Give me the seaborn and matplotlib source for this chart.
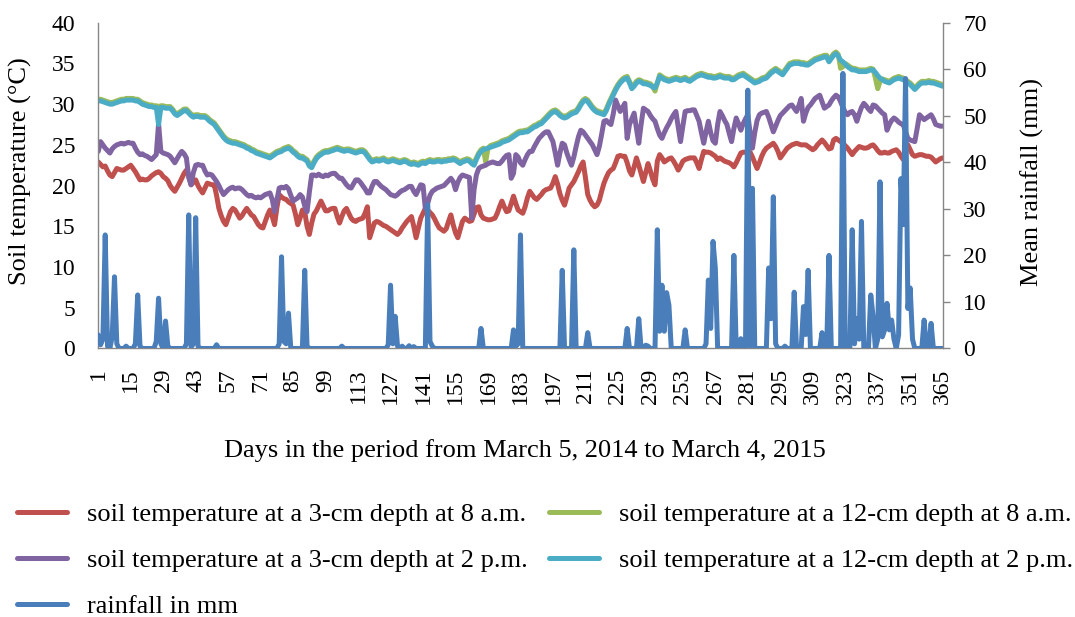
import numpy as np
import pandas as pd
import matplotlib
matplotlib.use("Agg")
import matplotlib.pyplot as plt
import seaborn as sns

# ---------------- data ----------------
days = list(range(1, 366))
x_tick_labels = list(range(1, 366, 14))

soil_3cm_8am = [
    22.9, 22.6, 22.3, 22.4, 21.8, 21.3, 21.1, 21.6, 22.1, 22.0,
    21.9, 21.9, 22.1, 22.3, 22.5, 22.1, 21.7, 21.2, 20.7, 20.8,
    20.7, 20.7, 20.9, 21.2, 21.4, 21.6, 21.7, 21.5, 21.1, 20.9,
    20.6, 20.0, 19.6, 19.3, 19.8, 20.3, 20.9, 21.5, 21.9, 21.2,
    20.1, 20.4, 20.7, 20.0, 19.5, 19.1, 19.7, 20.3, 20.2, 20.1,
    20.1, 18.8, 17.2, 16.3, 15.6, 15.2, 16.0, 16.8, 17.2, 17.0,
    16.5, 16.0, 16.3, 16.8, 17.2, 16.8, 16.4, 16.2, 15.7, 15.2,
    14.9, 14.8, 15.6, 16.4, 17.0, 16.2, 15.2, 17.3, 18.9, 18.6,
    18.4, 18.3, 18.0, 17.8, 17.6, 16.5, 15.2, 16.0, 17.0, 16.8,
    15.0, 14.0, 15.4, 16.5, 16.9, 17.5, 18.1, 17.5, 16.9, 16.9,
    17.1, 17.2, 17.2, 16.2, 15.4, 16.2, 16.9, 17.2, 16.6, 16.0,
    15.7, 15.6, 15.8, 15.9, 16.0, 16.6, 17.4, 13.6, 14.5, 15.4,
    15.6, 15.5, 15.3, 15.1, 15.0, 14.8, 14.6, 14.4, 14.2, 14.0,
    14.3, 14.8, 15.2, 15.6, 15.9, 16.2, 15.0, 13.6, 14.8, 16.0,
    16.6, 17.2, 17.0, 16.7, 16.4, 15.9, 15.3, 14.8, 14.6, 14.4,
    14.7, 15.6, 16.4, 15.2, 14.2, 13.6, 14.6, 15.6, 16.0, 15.8,
    15.6, 15.7, 16.5, 17.3, 17.4, 16.4, 16.0, 15.9, 15.8, 15.8,
    15.9, 16.0, 16.6, 17.4, 18.1, 17.4, 16.8, 16.9, 17.8, 18.7,
    17.8, 17.0, 16.8, 16.6, 17.4, 18.5, 19.3, 18.9, 18.5, 18.3,
    18.6, 18.9, 19.3, 19.5, 19.6, 19.7, 20.3, 21.1, 20.2, 19.0,
    18.2, 17.6, 18.6, 19.7, 20.1, 20.5, 21.1, 21.7, 22.4, 22.9,
    21.0, 18.9, 18.2, 17.7, 17.4, 17.6, 18.2, 19.3, 20.3, 21.0,
    21.6, 21.9, 22.1, 22.8, 23.6, 23.7, 23.6, 23.6, 22.8, 21.8,
    21.3, 22.3, 23.4, 22.5, 21.5, 20.5, 21.6, 22.7, 21.8, 20.8,
    20.1, 23.0, 23.8, 23.4, 22.9, 23.1, 23.3, 23.4, 23.0, 22.5,
    21.9, 22.4, 23.0, 23.2, 23.3, 23.4, 23.4, 23.4, 22.8, 22.1,
    23.2, 24.2, 24.1, 24.1, 24.0, 23.8, 23.6, 23.2, 23.4, 23.2,
    23.0, 22.9, 22.8, 22.6, 22.3, 22.8, 23.4, 24.0, 24.1, 24.1,
    24.2, 24.1, 23.5, 22.8, 22.1, 22.8, 23.6, 24.2, 24.6, 24.8,
    25.0, 25.2, 24.8, 24.2, 23.4, 23.8, 24.2, 24.6, 24.8, 25.0,
    25.1, 25.2, 25.1, 25.0, 25.0, 25.0, 24.8, 24.6, 24.4, 24.6,
    25.0, 25.3, 25.6, 25.3, 24.9, 24.5, 24.6, 25.6, 25.8, 25.6,
    25.4, 25.2, 24.9, 24.6, 24.2, 23.8, 24.2, 24.5, 24.8, 24.7,
    24.6, 24.6, 24.7, 24.9, 25.0, 24.7, 24.3, 24.0, 24.0, 24.1,
    24.0, 24.0, 24.2, 24.3, 24.4, 24.1, 23.6, 23.2, 24.6, 25.0,
    24.4, 23.8, 23.6, 23.7, 23.8, 23.8, 23.7, 23.6, 23.6, 23.5,
    23.2, 22.9, 23.1, 23.3, 23.4,
]

soil_12cm_8am = [
    30.6, 30.6, 30.5, 30.4, 30.3, 30.2, 30.2, 30.3, 30.4, 30.5,
    30.6, 30.6, 30.7, 30.7, 30.7, 30.7, 30.6, 30.6, 30.4, 30.2,
    30.1, 30.0, 29.9, 29.9, 29.8, 29.8, 29.7, 29.8, 29.8, 29.7,
    29.7, 29.7, 29.4, 29.0, 28.8, 29.0, 29.2, 29.4, 29.4, 29.1,
    28.8, 28.6, 28.7, 28.7, 28.6, 28.6, 28.6, 28.4, 28.1, 27.9,
    27.7, 27.3, 26.9, 26.5, 26.1, 25.8, 25.6, 25.5, 25.4, 25.4,
    25.3, 25.2, 25.1, 25.0, 24.8, 24.7, 24.5, 24.4, 24.2, 24.1,
    24.0, 23.9, 23.8, 23.7, 23.6, 23.8, 24.0, 24.2, 24.3, 24.4,
    24.6, 24.7, 24.8, 24.6, 24.3, 24.1, 23.8, 23.6, 23.6, 23.4,
    23.2, 22.7, 22.5, 23.0, 23.5, 23.8, 24.0, 24.2, 24.3, 24.3,
    24.4, 24.5, 24.6, 24.7, 24.6, 24.5, 24.4, 24.5, 24.5, 24.4,
    24.3, 24.2, 24.3, 24.4, 24.4, 24.2, 23.8, 23.4, 23.1, 23.2,
    23.3, 23.2, 23.3, 23.4, 23.2, 23.1, 23.2, 23.3, 23.2, 23.1,
    23.0, 23.1, 23.2, 23.1, 22.9, 22.8, 22.9, 22.8, 22.7, 22.9,
    23.0, 22.9, 23.1, 23.2, 23.1, 23.1, 23.2, 23.2, 23.1, 23.2,
    23.2, 23.3, 23.3, 23.4, 23.3, 23.1, 22.9, 23.1, 23.2, 23.3,
    23.2, 22.9, 22.8, 23.4, 24.0, 24.4, 24.6, 22.9, 24.6, 24.9,
    25.0, 25.1, 25.2, 25.3, 25.5, 25.6, 25.7, 25.8, 26.0, 26.2,
    26.4, 26.6, 26.7, 26.7, 26.8, 26.8, 27.0, 27.2, 27.4, 27.5,
    27.7, 27.8, 28.1, 28.4, 28.7, 29.0, 29.2, 29.3, 29.1, 28.8,
    28.6, 28.5, 28.6, 28.8, 29.0, 29.1, 29.2, 29.6, 30.1, 30.5,
    30.7, 30.5, 30.1, 29.7, 29.4, 29.2, 29.1, 29.0, 28.9, 29.4,
    30.1, 30.7, 31.3, 31.9, 32.4, 32.8, 33.1, 33.3, 33.4, 32.8,
    32.1, 32.4, 32.8, 33.0, 32.9, 32.7, 32.7, 32.6, 32.5, 32.2,
    31.6, 32.6, 33.6, 33.4, 33.2, 33.1, 33.0, 33.1, 33.2, 33.3,
    33.2, 33.1, 33.2, 33.3, 33.1, 33.0, 33.2, 33.4, 33.6, 33.7,
    33.8, 33.7, 33.6, 33.5, 33.5, 33.4, 33.4, 33.5, 33.6, 33.5,
    33.4, 33.4, 33.4, 33.2, 33.2, 33.4, 33.6, 33.7, 33.8, 33.6,
    33.4, 33.2, 33.0, 32.8, 32.9, 33.0, 33.2, 33.3, 33.4, 33.7,
    34.0, 34.2, 34.4, 34.2, 34.0, 33.8, 34.2, 34.6, 35.0, 35.1,
    35.2, 35.2, 35.2, 35.1, 35.1, 35.0, 35.0, 35.2, 35.4, 35.6,
    35.7, 35.8, 35.9, 36.0, 36.0, 35.4, 35.8, 36.2, 36.4, 36.1,
    34.4, 34.6, 35.0, 34.8, 34.6, 34.4, 34.4, 34.3, 34.2, 34.2,
    34.2, 34.2, 34.3, 34.4, 34.3, 33.2, 31.9, 32.8, 33.1, 33.0,
    32.9, 32.8, 33.0, 33.2, 33.3, 33.4, 33.3, 33.2, 33.0, 32.8,
    32.6, 32.3, 32.0, 32.3, 32.6, 32.8, 32.8, 32.8, 32.9, 32.8,
    32.8, 32.7, 32.6, 32.5, 32.4,
]

soil_3cm_2pm = [
    24.2, 25.4, 25.0, 24.6, 24.3, 24.0, 24.5, 24.8, 25.0, 25.1,
    25.2, 25.1, 25.2, 25.3, 25.2, 25.2, 24.6, 24.1, 23.8, 23.9,
    23.7, 23.6, 23.4, 23.2, 23.5, 23.8, 27.6, 24.2, 24.0, 23.9,
    23.8, 23.6, 23.2, 22.8, 23.3, 23.8, 24.2, 23.9, 23.4, 21.0,
    20.1, 21.6, 22.5, 22.6, 22.5, 22.5, 21.8, 21.3, 21.4, 21.3,
    20.9, 20.5, 20.0, 19.4, 18.9, 19.2, 19.5, 19.7, 19.8, 19.6,
    19.7, 19.7, 19.5, 19.2, 18.9, 18.7, 18.8, 18.6, 18.5, 18.6,
    18.5, 18.7, 18.9, 19.0, 19.1, 18.3, 16.8, 18.2, 19.7, 19.8,
    19.7, 19.9, 19.6, 18.8, 18.1, 18.3, 18.5, 18.9, 18.6, 17.5,
    16.8, 19.2, 21.3, 21.3, 21.2, 21.4, 21.2, 21.1, 21.3, 21.2,
    21.4, 21.5, 21.5, 21.2, 20.9, 20.9, 20.5, 20.1, 19.8, 19.7,
    20.2, 20.7, 20.7, 20.4, 20.0, 19.6, 19.1, 19.1, 19.9, 20.5,
    20.5, 20.2, 19.9, 19.7, 19.5, 19.2, 18.9, 18.8, 18.7, 18.9,
    19.2, 19.4, 19.5, 19.7, 19.9, 19.9, 19.3, 18.9, 19.5, 20.1,
    20.0, 17.2, 17.8, 18.8, 19.3, 19.5, 19.7, 19.8, 19.9, 20.0,
    20.3, 20.6, 20.9, 20.5, 19.5, 20.4, 21.0, 21.3, 21.2, 21.1,
    21.0, 16.0, 19.5, 21.3, 22.1, 22.3, 22.4, 22.5, 22.7, 22.8,
    22.9, 22.8, 22.7, 22.7, 23.0, 23.4, 23.7, 23.8, 20.9, 21.5,
    23.8, 23.5, 22.8, 22.5, 23.2, 23.8, 24.2, 24.2, 24.8, 25.3,
    25.8, 26.1, 26.4, 26.6, 26.6, 26.0, 25.4, 24.0, 22.5, 24.0,
    25.2, 25.0, 24.0, 23.2, 22.5, 23.5, 24.8, 26.0, 26.8, 26.6,
    26.2, 25.8, 25.4, 25.0, 24.4, 23.8, 24.8, 26.3, 27.9, 28.0,
    27.7, 27.5, 28.8, 30.5, 29.8, 29.1, 29.6, 30.1, 25.8, 27.5,
    28.2, 28.9, 27.0, 25.2, 27.5, 29.5, 29.3, 29.1, 28.6, 28.2,
    27.9, 27.0, 26.2, 25.8, 26.5, 27.1, 27.6, 28.2, 28.7, 29.1,
    27.2, 25.4, 27.3, 29.1, 29.2, 29.2, 29.3, 29.3, 28.6, 27.9,
    26.5, 25.2, 26.6, 27.9, 26.5, 25.5, 25.2, 27.5, 29.1, 28.6,
    28.0, 27.5, 26.4, 25.4, 27.0, 28.3, 27.6, 26.8, 27.6, 28.2,
    28.7, 26.5, 24.6, 26.5, 28.0, 28.7, 28.9, 29.0, 29.1, 28.4,
    27.5, 26.6, 27.3, 28.0, 28.6, 28.9, 29.2, 29.5, 29.8, 29.9,
    29.5, 29.1, 29.8, 30.7, 27.9, 28.9, 29.6, 29.9, 30.3, 30.7,
    30.9, 31.1, 30.3, 29.5, 29.7, 29.9, 30.4, 30.8, 31.1, 30.9,
    30.3, 29.6, 29.0, 28.7, 29.0, 29.1, 28.7, 27.9, 28.8, 29.6,
    30.1, 29.8, 29.4, 29.1, 29.9, 29.8, 29.5, 29.2, 28.9, 28.7,
    26.8, 27.5, 28.0, 28.3, 28.1, 27.8, 27.6, 27.5, 26.6, 25.8,
    25.6, 25.5, 25.4, 27.0, 28.7, 28.4, 28.1, 28.3, 28.5, 28.7,
    28.2, 27.5, 27.4, 27.3, 27.3,
]

soil_12cm_2pm = [
    30.4, 30.4, 30.3, 30.2, 30.1, 30.0, 30.0, 30.1, 30.2, 30.3,
    30.4, 30.4, 30.5, 30.5, 30.5, 30.5, 30.4, 30.4, 30.2, 30.0,
    29.9, 29.8, 29.7, 29.7, 29.6, 29.6, 27.5, 29.6, 29.6, 29.5,
    29.5, 29.5, 29.2, 28.8, 28.6, 28.8, 29.0, 29.2, 29.2, 28.9,
    28.6, 28.4, 28.5, 28.5, 28.4, 28.4, 28.4, 28.2, 27.9, 27.7,
    27.5, 27.1, 26.7, 26.3, 25.9, 25.6, 25.4, 25.3, 25.2, 25.2,
    25.1, 25.0, 24.9, 24.8, 24.6, 24.5, 24.3, 24.2, 24.0, 23.9,
    23.8, 23.7, 23.6, 23.5, 23.4, 23.6, 23.8, 24.0, 24.1, 24.2,
    24.4, 24.5, 24.6, 24.4, 24.1, 23.9, 23.6, 23.4, 23.4, 23.2,
    23.0, 22.4, 22.2, 22.8, 23.3, 23.6, 23.8, 24.0, 24.1, 24.1,
    24.2, 24.3, 24.4, 24.5, 24.4, 24.3, 24.2, 24.3, 24.3, 24.2,
    24.1, 24.0, 24.1, 24.2, 24.2, 24.0, 23.6, 23.2, 22.9, 23.0,
    23.1, 23.0, 23.1, 23.2, 23.0, 22.9, 23.0, 23.1, 23.0, 22.9,
    22.8, 22.9, 23.0, 22.9, 22.7, 22.6, 22.7, 22.6, 22.5, 22.7,
    22.8, 22.7, 22.9, 23.0, 22.9, 22.9, 23.0, 23.0, 22.9, 23.0,
    23.0, 23.1, 23.1, 23.2, 23.1, 22.9, 22.7, 22.9, 23.0, 23.1,
    23.0, 22.7, 22.5, 23.2, 23.8, 24.2, 24.4, 24.5, 24.6, 24.7,
    24.8, 24.9, 25.0, 25.1, 25.3, 25.4, 25.5, 25.6, 25.8, 26.0,
    26.2, 26.4, 26.5, 26.5, 26.6, 26.6, 26.8, 27.0, 27.2, 27.3,
    27.5, 27.6, 27.9, 28.2, 28.5, 28.8, 29.0, 29.1, 28.9, 28.6,
    28.4, 28.3, 28.4, 28.6, 28.8, 28.9, 29.0, 29.4, 29.9, 30.3,
    30.5, 30.3, 29.9, 29.5, 29.2, 29.0, 28.9, 28.8, 28.7, 29.2,
    29.9, 30.5, 31.1, 31.7, 32.2, 32.6, 32.9, 33.1, 33.2, 32.6,
    31.9, 32.2, 32.6, 32.8, 32.7, 32.5, 32.5, 32.4, 32.3, 32.1,
    32.0, 32.6, 33.4, 33.2, 33.0, 32.9, 32.8, 32.9, 33.0, 33.1,
    33.0, 32.9, 33.0, 33.1, 32.9, 32.8, 33.0, 33.2, 33.4, 33.5,
    33.6, 33.5, 33.4, 33.3, 33.3, 33.2, 33.2, 33.3, 33.4, 33.3,
    33.2, 33.2, 33.2, 33.0, 33.0, 33.2, 33.4, 33.5, 33.6, 33.4,
    33.2, 33.0, 32.8, 32.6, 32.7, 32.8, 33.0, 33.1, 33.2, 33.5,
    33.8, 34.0, 34.2, 34.0, 33.8, 33.6, 34.0, 34.4, 34.8, 34.9,
    35.0, 35.0, 35.0, 34.9, 34.9, 34.8, 34.8, 35.0, 35.2, 35.4,
    35.5, 35.6, 35.7, 35.8, 35.8, 35.2, 35.6, 36.0, 36.2, 35.9,
    35.4, 35.2, 34.9, 34.6, 34.4, 34.2, 34.2, 34.1, 34.0, 34.0,
    34.0, 34.0, 34.1, 34.2, 34.2, 33.9, 33.5, 33.2, 33.0, 32.8,
    32.7, 32.6, 32.8, 33.0, 33.1, 33.2, 33.1, 33.0, 32.8, 32.6,
    32.4, 32.1, 31.8, 32.1, 32.4, 32.6, 32.6, 32.6, 32.7, 32.6,
    32.6, 32.5, 32.4, 32.3, 32.2,
]

# rainfall (mm) on the days with rain; every other day is 0 mm
rain_days = [1, 2, 3, 4, 5, 7, 8, 9, 13, 17, 18, 19, 26, 27, 28, 30, 31,
             39, 40, 41, 42, 43, 44, 52, 79, 80, 81, 82, 83, 90, 91, 106,
             126, 127, 128, 129, 130, 132, 135, 137, 143, 144, 145, 166,
             180, 181, 182, 183, 201, 206, 212, 229, 234, 237, 238,
             242, 243, 244, 245, 246, 247, 254, 263, 264, 265, 266, 267,
             275, 278, 281, 282, 283, 290, 291, 292, 293, 297, 301, 305,
             306, 307, 313, 316, 322, 326, 327, 328, 329, 330, 334, 335,
             337, 338, 339, 340, 341, 342, 343, 344, 346, 347, 348, 349,
             350, 351, 352, 357, 360]
rain_mm = [2.9, 0.8, 2.0, 24.4, 0.5, 2.5, 15.4, 1.0, 0.5, 1.0, 11.5, 0.5, 1.5,
           10.8, 1.0, 5.9, 0.5, 1.0, 28.7, 0.3, 1.0, 28.1, 0.5, 0.8, 1.0,
           19.7, 1.5, 1.0, 7.6, 16.8, 0.5, 0.5, 0.8, 13.6, 1.0, 6.9, 0.5,
           0.5, 0.6, 0.4, 30.9, 1.5, 0.5, 4.3, 4.0, 0.5, 1.0, 24.4, 16.8,
           21.2, 3.4, 4.3, 6.4, 0.7, 0.5, 25.5, 3.7, 13.6, 3.7, 12.0, 9.3,
           4.0, 1.0, 14.7, 4.3, 23.0, 17.3, 20.0, 2.1, 55.5, 0.5, 34.4,
           17.3, 6.4, 32.6, 1.0, 0.5, 12.1, 9.0, 3.0, 16.8, 3.4, 20.0,
           59.1, 25.5, 1.0, 6.4, 2.0, 27.3, 11.5, 6.9, 2.0, 35.8, 2.5, 4.0,
           9.7, 4.0, 6.1, 2.0, 2.9, 36.5, 26.6, 58.0, 8.6, 13.0, 2.0, 6.1,
           5.4]

labels = {
    "r": "soil temperature at a 3-cm depth at 8 a.m.",
    "g": "soil temperature at a 12-cm depth at 8 a.m.",
    "p": "soil temperature at a 3-cm depth at 2 p.m.",
    "c": "soil temperature at a 12-cm depth at 2 p.m.",
    "b": "rainfall in mm",
}

# ---------------- frames ----------------
rain_lookup = dict(zip(rain_days, rain_mm))
rainfall = [rain_lookup.get(d, 0.0) for d in days]
temps = pd.DataFrame({
    "day": days,
    "r": soil_3cm_8am,
    "g": soil_12cm_8am,
    "p": soil_3cm_2pm,
    "c": soil_12cm_2pm,
})
rain = pd.DataFrame({"day": days, "mm": rainfall})

colors = {"r": "#C0504D", "g": "#9BBB59", "p": "#8064A2",
          "c": "#4BACC6", "b": "#4A7EBB"}

sns.set_theme(style="white")
plt.rcParams["font.family"] = ["Liberation Serif", "DejaVu Serif"]
plt.rcParams["font.size"] = 17
for key in ["text.color", "axes.labelcolor", "xtick.color", "ytick.color"]:
    plt.rcParams[key] = "black"

TICK_FS = 17
TEXT_FS = 19

fig = plt.figure(figsize=(10.75, 6.17), dpi=100)
ax = fig.add_axes([0.0914, 0.4352, 0.7855, 0.528])
ax2 = ax.twinx()

LW = 3.6
for key in ["r", "g", "p", "c"]:
    sns.lineplot(data=temps, x="day", y=key, ax=ax, color=colors[key],
                 linewidth=LW, label=labels[key], legend=False,
                 solid_joinstyle="round", solid_capstyle="round")
sns.lineplot(data=rain, x="day", y="mm", ax=ax2, color=colors["b"],
             linewidth=LW, label=labels["b"], legend=False,
             solid_joinstyle="round", solid_capstyle="round")

ax.set_xlim(1, 365)
ax.set_ylim(0, 40)
ax2.set_ylim(0, 70)
ax.set_xticks(x_tick_labels)
ax.set_xticklabels([str(v) for v in x_tick_labels], rotation=90)
ax.set_yticks(range(0, 41, 5))
ax2.set_yticks(range(0, 71, 10))

spine_c = "#868686"
for a in (ax, ax2):
    for s in a.spines.values():
        s.set_color(spine_c)
        s.set_linewidth(1.0)
    a.spines["top"].set_visible(False)
    a.grid(False)
ax.spines["right"].set_visible(False)
ax2.spines["left"].set_visible(False)
ax2.spines["bottom"].set_visible(False)

ax.tick_params(axis="x", length=0, pad=14.5, labelsize=TICK_FS, labelcolor="black")
ax.tick_params(axis="y", length=0, pad=16.5, labelsize=TICK_FS, labelcolor="black")
ax2.tick_params(axis="y", length=5.3, width=1.0, color=spine_c, direction="out",
                pad=9.5, labelsize=TICK_FS, labelcolor="black")

ax.set_ylabel("Soil temperature (°C)", fontsize=TEXT_FS)
ax.yaxis.set_label_coords(-0.078, 0.545)
ax2.set_ylabel("Mean rainfall (mm)", fontsize=TEXT_FS, rotation=90)
ax2.yaxis.set_label_coords(1.092, 0.511)
ax.set_xlabel("Days in the period from March 5, 2014 to March 4, 2015",
              fontsize=TEXT_FS)
ax.xaxis.set_label_coords(0.505, -0.278)

handles = {}
for a in (ax, ax2):
    for ln in a.get_lines():
        lab = ln.get_label()
        for k, v in labels.items():
            if lab == v:
                handles[k] = ln
order = ["r", "p", "b", "g", "c"]
fig.legend([handles[k] for k in order], [labels[k] for k in order],
           loc="upper left", bbox_to_anchor=(0.016, 1 - 503 / 617),
           ncol=2, frameon=False, fontsize=TEXT_FS, handlelength=1.9,
           handletextpad=0.76, columnspacing=0.8, labelspacing=0.85,
           borderpad=0, borderaxespad=0)

fig.savefig("out.png", dpi=100)
